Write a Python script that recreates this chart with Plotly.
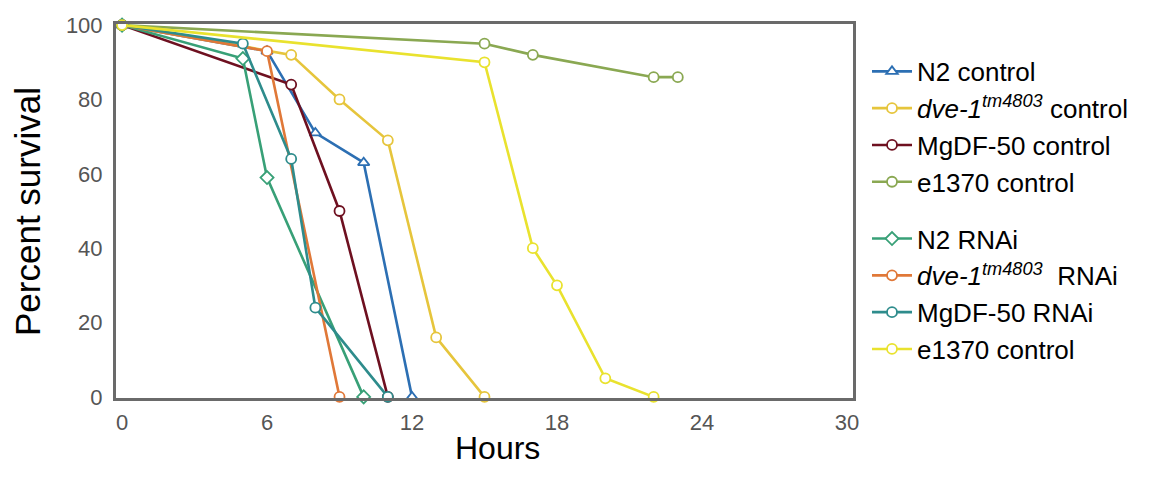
import plotly.graph_objects as go

# ---- data (hours, percent survival) ----
n2_ctrl_x = [0, 6, 8, 10, 12]
n2_ctrl_y = [100, 93, 71, 63, 0]

dve_ctrl_x = [0, 7, 9, 11, 13, 15]
dve_ctrl_y = [100, 92, 80, 69, 16, 0]

mg_ctrl_x = [0, 7, 9, 11]
mg_ctrl_y = [100, 84, 50, 0]

e1370_ctrl_x = [0, 15, 17, 22, 23]
e1370_ctrl_y = [100, 95, 92, 86, 86]

n2_rnai_x = [0, 5, 6, 10]
n2_rnai_y = [100, 91, 59, 0]

dve_rnai_x = [0, 6, 9]
dve_rnai_y = [100, 93, 0]

mg_rnai_x = [0, 5, 7, 8, 11]
mg_rnai_y = [100, 95, 64, 24, 0]

e1370_b_x = [0, 15, 17, 18, 20, 22]
e1370_b_y = [100, 90, 40, 30, 5, 0]

series_names = [
    "N2 control",
    "<i>dve-1<sup>tm4803</sup></i> control",
    "MgDF-50 control",
    "e1370 control",
    "N2 RNAi",
    "<i>dve-1<sup>tm4803</sup></i>  RNAi",
    "MgDF-50 RNAi",
    "e1370 control",
]
x_ticks = [0, 6, 12, 18, 24, 30]
y_ticks = [0, 20, 40, 60, 80, 100]
x_title = "Hours"
y_title = "Percent survival"

series = [
    (n2_ctrl_x, n2_ctrl_y, "#2c6fb3", "triangle-up", "ctrl"),
    (dve_ctrl_x, dve_ctrl_y, "#e6c53c", "circle", "ctrl"),
    (mg_ctrl_x, mg_ctrl_y, "#6e1020", "circle", "ctrl"),
    (e1370_ctrl_x, e1370_ctrl_y, "#8aa852", "circle", "ctrl"),
    (n2_rnai_x, n2_rnai_y, "#38a077", "diamond", "rnai"),
    (dve_rnai_x, dve_rnai_y, "#e07838", "circle", "rnai"),
    (mg_rnai_x, mg_rnai_y, "#2e8c8c", "circle", "rnai"),
    (e1370_b_x, e1370_b_y, "#e9e22e", "circle", "rnai"),
]

fig = go.Figure()
for (xs, ys, col, sym, grp), name in zip(series, series_names):
    fig.add_trace(go.Scatter(
        x=xs, y=ys, name=name, mode="lines+markers",
        legendgroup=grp,
        line=dict(color=col, width=2.6),
        marker=dict(symbol=sym, size=10, color="white",
                    line=dict(color=col, width=1.8)),
        cliponaxis=False,
    ))

tick_font = dict(family="Liberation Sans, Arial, sans-serif", size=22, color="#555555")

fig.update_layout(
    width=1154, height=480,
    margin=dict(l=116, r=301, t=24, b=82),
    paper_bgcolor="white", plot_bgcolor="white",
    font=dict(family="Liberation Sans, Arial, sans-serif", color="black"),
    showlegend=True,
    legend=dict(
        x=1.019, xanchor="left", y=0.936, yanchor="top",
        font=dict(family="Liberation Sans, Arial, sans-serif", size=26, color="black"),
        traceorder="grouped", tracegroupgap=20,
        bgcolor="rgba(0,0,0,0)", itemwidth=40,
    ),
    xaxis=dict(
        range=[-0.25, 30.25], tickvals=x_ticks, ticktext=[str(v) for v in x_ticks],
        showgrid=False, zeroline=False, showline=True, mirror=True,
        linecolor="#6a6a6a", linewidth=3, ticks="", tickfont=tick_font,
        ticklabelstandoff=3,
    ),
    yaxis=dict(
        range=[-0.3, 100.3], tickvals=y_ticks, ticktext=[str(v) for v in y_ticks],
        showgrid=False, zeroline=False, showline=True, mirror=True,
        linecolor="#6a6a6a", linewidth=3, ticks="", tickfont=tick_font,
        ticklabelstandoff=6,
    ),
    annotations=[
        dict(text=x_title, xref="paper", yref="paper", x=(497 - 116) / 737, y=(398 - 448) / 374,
             xanchor="center", yanchor="middle", showarrow=False,
             font=dict(family="Liberation Sans, Arial, sans-serif", size=32, color="black")),
        dict(text=y_title, xref="paper", yref="paper", x=(27 - 116) / 737, y=(398 - 212) / 374,
             xanchor="center", yanchor="middle", showarrow=False, textangle=-90,
             font=dict(family="Liberation Sans, Arial, sans-serif", size=35, color="black")),
    ],
)

fig.write_html("out.html")
